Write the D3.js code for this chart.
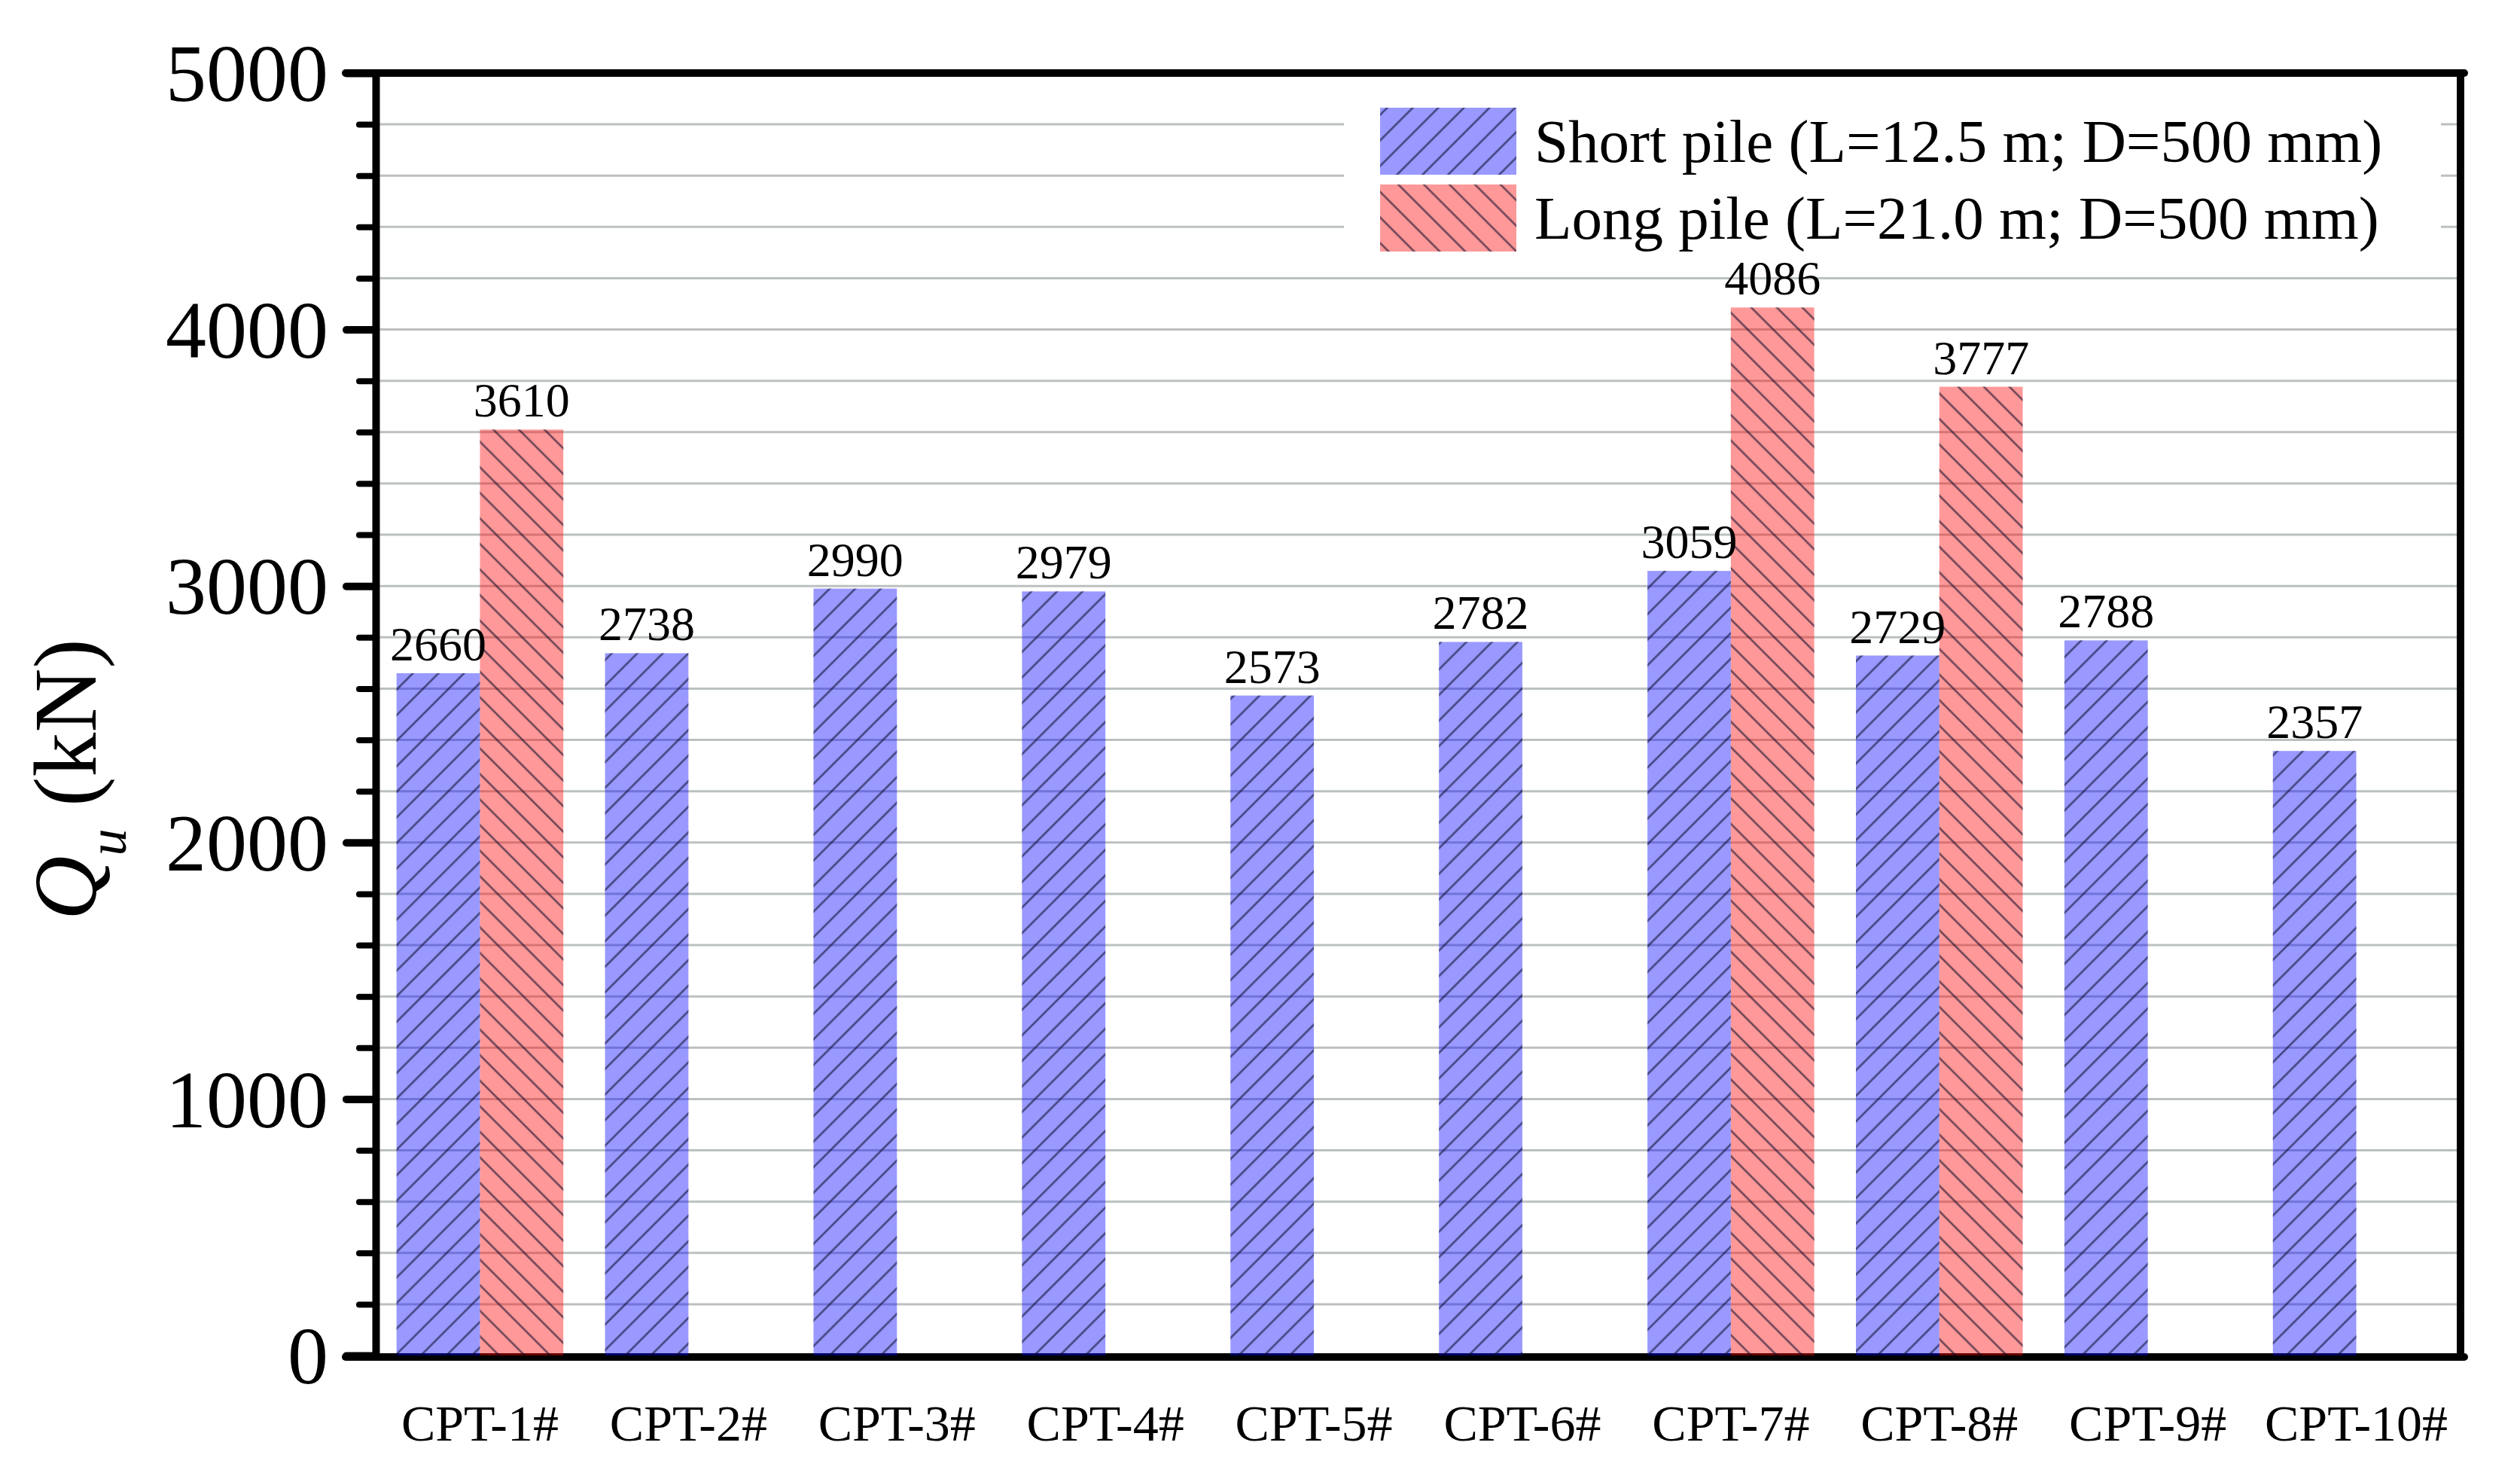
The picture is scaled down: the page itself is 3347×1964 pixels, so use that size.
<!DOCTYPE html>
<html>
<head>
<meta charset="utf-8">
<script src="https://cdn.jsdelivr.net/npm/d3@7"></script>
<style>
  html, body { margin: 0; padding: 0; background: #ffffff; }
  svg { display: block; }
  text { font-family: "Liberation Serif", "Times New Roman", serif; fill: #000; }
</style>
</head>
<body>
<svg id="chart" width="3347" height="1964"></svg>
<script>
// ---- data ----
const categories = ["CPT-1#", "CPT-2#", "CPT-3#", "CPT-4#", "CPT-5#", "CPT-6#", "CPT-7#", "CPT-8#", "CPT-9#", "CPT-10#"];
const shortPile = [2660, 2738, 2990, 2979, 2573, 2782, 3059, 2729, 2788, 2357];
const longPile  = [3610, null, null, null, null, null, 4086, 3777, null, null];
const seriesNames = ["Short pile (L=12.5 m; D=500 mm)", "Long pile (L=21.0 m; D=500 mm)"];
const majorTicks = [0, 1000, 2000, 3000, 4000, 5000];
const minorTicks = d3.range(200, 5000, 200).filter(v => v % 1000 !== 0);
const gridValues = d3.range(200, 5000, 200);

// ---- layout ----
const W = 3347, H = 1964;
const pL = 499, pR = 3268, pT = 97, pB = 1800;
const svg = d3.select("#chart");
svg.append("rect").attr("width", W).attr("height", H).attr("fill", "#fff");

const x = d3.scaleBand().domain(categories).range([pL, pR]).paddingInner(0).paddingOuter(0);
const y = d3.scaleLinear().domain([0, 5000]).range([pB, pT]);
const barW = x.step() * 0.4;

// patterns
const defs = svg.append("defs");
function hatch(id, angle) {
  const p = defs.append("pattern").attr("id", id)
    .attr("patternUnits", "userSpaceOnUse")
    .attr("width", 24).attr("height", 24)
    .attr("patternTransform", `rotate(${angle})`);
  p.append("line").attr("x1", 12).attr("y1", -2).attr("x2", 12).attr("y2", 26)
    .attr("stroke", "rgba(10,10,40,0.6)").attr("stroke-width", 2.6);
}
hatch("hatchShort", 45);
hatch("hatchLong", -45);
const fills = ["rgba(0,0,255,0.4)", "rgba(255,0,0,0.4)"];
const hatches = ["url(#hatchShort)", "url(#hatchLong)"];

// gridlines
svg.append("g").selectAll("line").data(gridValues).join("line")
  .attr("x1", pL).attr("x2", pR)
  .attr("y1", d => y(d)).attr("y2", d => y(d))
  .attr("stroke", "#bcc0c0").attr("stroke-width", 3);

// legend background (covers gridlines)
const lg = svg.append("g");
lg.append("rect").attr("x", 1785).attr("y", 128).attr("width", 1457).attr("height", 218).attr("fill", "#fff");

// bottom axis line (under bars)
svg.append("line").attr("x1", 459).attr("x2", pR + 5)
  .attr("y1", pB + 2).attr("y2", pB + 2)
  .attr("stroke", "#000").attr("stroke-width", 10).attr("stroke-linecap", "round");

// bars
const barData = [];
categories.forEach((c, i) => {
  barData.push({ c, s: 0, v: shortPile[i] });
  if (longPile[i] != null) barData.push({ c, s: 1, v: longPile[i] });
});
const barX = d => x(d.c) + x.bandwidth() / 2 - barW + d.s * barW;
const gBars = svg.append("g");
gBars.selectAll("rect.fill").data(barData).join("rect").attr("class", "fill")
  .attr("x", barX)
  .attr("y", d => y(d.v)).attr("width", barW).attr("height", d => y(0) - y(d.v))
  .attr("fill", d => fills[d.s]);
gBars.selectAll("rect.hatch").data(barData).join("rect").attr("class", "hatch")
  .attr("x", barX)
  .attr("y", d => y(d.v)).attr("width", barW).attr("height", d => y(0) - y(d.v))
  .attr("fill", d => hatches[d.s]);

// value labels
svg.append("g").selectAll("text").data(barData).join("text")
  .attr("x", d => barX(d) + barW / 2)
  .attr("y", d => y(d.v) - 17)
  .attr("text-anchor", "middle").attr("font-size", 64)
  .text(d => d.v);

// y axis: minor ticks
const yMinor = d3.axisLeft(y).tickValues(minorTicks).tickSize(22).tickFormat("").tickSizeOuter(0);
const gMinor = svg.append("g").attr("transform", `translate(${pL},0)`).call(yMinor);
gMinor.select(".domain").remove();
gMinor.selectAll(".tick line").attr("stroke", "#000").attr("stroke-width", 8).attr("stroke-linecap", "round");

// y axis: major
const yMajor = d3.axisLeft(y).tickValues(majorTicks).tickSize(39).tickSizeOuter(0).tickPadding(24).tickFormat(d3.format("d"));
const gMajor = svg.append("g").attr("transform", `translate(${pL},0)`).call(yMajor);
gMajor.select(".domain").attr("stroke", "#000").attr("stroke-width", 10);
gMajor.selectAll(".tick line").attr("stroke", "#000").attr("stroke-width", 10).attr("stroke-linecap", "round");
gMajor.selectAll(".tick text").attr("font-size", 108).attr("font-family", "Liberation Serif, Times New Roman, serif").attr("fill", "#000").attr("dy", "0.34em");

// frame top and right
svg.append("line").attr("x1", 459).attr("x2", pR + 5).attr("y1", pT).attr("y2", pT)
  .attr("stroke", "#000").attr("stroke-width", 10).attr("stroke-linecap", "round");
svg.append("line").attr("x1", pR).attr("x2", pR).attr("y1", pT - 5).attr("y2", pB + 7)
  .attr("stroke", "#000").attr("stroke-width", 10);

// x axis labels
const xAxis = d3.axisBottom(x).tickSize(0).tickPadding(0);
const gX = svg.append("g").attr("transform", `translate(0,${pB})`).call(xAxis);
gX.select(".domain").remove();
gX.selectAll(".tick text").attr("font-size", 68).attr("font-family", "Liberation Serif, Times New Roman, serif")
  .attr("fill", "#000").attr("y", 113).attr("dy", 0);

// y title
const yt = svg.append("text").attr("transform", "translate(127,1035) rotate(-90)")
  .attr("text-anchor", "middle").attr("font-size", 118);
yt.append("tspan").attr("font-style", "italic").text("Q");
yt.append("tspan").attr("font-style", "italic").attr("font-size", 72).attr("dy", 40).text("u");
yt.append("tspan").attr("dy", -40).text(" (kN)");

// legend
const legY = [143, 245];
seriesNames.forEach((name, i) => {
  lg.append("rect").attr("x", 1833).attr("y", legY[i]).attr("width", 181).attr("height", 89).attr("fill", fills[i]);
  lg.append("rect").attr("x", 1833).attr("y", legY[i]).attr("width", 181).attr("height", 89).attr("fill", hatches[i]);
  lg.append("text").attr("x", 2038).attr("y", legY[i] + 72).attr("font-size", 81).text(name);
});
</script>
</body>
</html>
